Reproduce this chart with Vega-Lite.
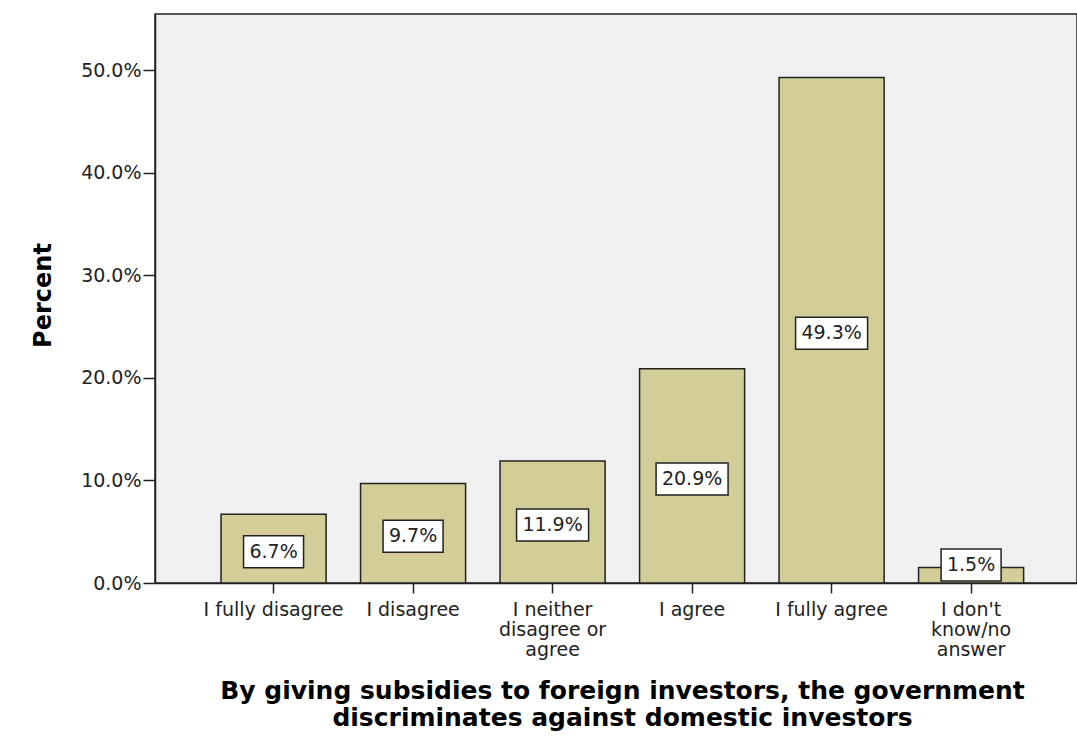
{
  "$schema": "https://vega.github.io/schema/vega-lite/v6.json",
  "width": 922,
  "height": 569,
  "autosize": {"type": "none"},
  "padding": {"left": 155, "top": 14, "right": 0, "bottom": 160},
  "background": "white",
  "config": {
    "view": {"fill": "#f0f0f0", "stroke": "#222222", "strokeWidth": 1.5},
    "font": "DejaVu Sans"
  },
  "data": {
    "values": [
      {"category": "I fully disagree", "pct": 6.7},
      {"category": "I disagree", "pct": 9.7},
      {"category": "I neither disagree or agree", "pct": 11.9},
      {"category": "I agree", "pct": 20.9},
      {"category": "I fully agree", "pct": 49.3},
      {"category": "I don't know/no answer", "pct": 1.5}
    ]
  },
  "transform": [
    {"calculate": "format(datum.pct, '.1f') + '%'", "as": "label"},
    {"calculate": "max(datum.pct / 2 - 0.3, 1.76)", "as": "lp"}
  ],
  "encoding": {
    "x": {
      "field": "category",
      "type": "nominal",
      "sort": null,
      "scale": {"paddingInner": 0.247, "paddingOuter": 0.428, "align": 0.553},
      "axis": {
        "labelExpr": "datum.value == 'I neither disagree or agree' ? ['I neither', 'disagree or', 'agree'] : datum.value == \"I don't know/no answer\" ? [\"I don't\", 'know/no', 'answer'] : datum.value",
        "labelAngle": 0,
        "labelFontSize": 19,
        "labelColor": "#222222",
        "labelPadding": 7,
        "labelLineHeight": 20,
        "labelBaseline": "top",
        "domainColor": "#222222",
        "domainWidth": 1.5,
        "tickColor": "#222222",
        "tickWidth": 1.5,
        "tickSize": 10,
        "title": ["By giving subsidies to foreign investors, the government", "discriminates against domestic investors"],
        "titleFontSize": 25,
        "titleFontWeight": "bold",
        "titleColor": "#000000",
        "titleBaseline": "top",
        "titleLineHeight": 27,
        "titleY": 95,
        "titleX": 467,
        "titleAlign": "center"
      }
    },
    "y": {
      "type": "quantitative",
      "scale": {"domain": [0, 55.5], "nice": false, "zero": true},
      "axis": {
        "values": [0, 10, 20, 30, 40, 50],
        "labelExpr": "format(datum.value, '.1f') + '%'",
        "labelFontSize": 19,
        "labelColor": "#222222",
        "labelPadding": 2,
        "tickSize": 12,
        "tickColor": "#222222",
        "tickWidth": 1.5,
        "domainColor": "#222222",
        "domainWidth": 1.5,
        "grid": false,
        "title": "Percent",
        "titleFontSize": 24,
        "titleFontWeight": "bold",
        "titleColor": "#000000",
        "titleAngle": 270,
        "titleBaseline": "middle",
        "titleAlign": "center",
        "titleX": -112,
        "titleY": 281
      }
    }
  },
  "layer": [
    {
      "mark": {"type": "bar", "fill": "#d3ce97", "stroke": "#222222", "strokeWidth": 1.5},
      "encoding": {"y": {"field": "pct"}}
    },
    {
      "transform": [{"filter": "length(datum.label) == 4"}],
      "mark": {"type": "point", "shape": "M-1,-0.533H1V0.533H-1Z", "filled": true, "fill": "white", "stroke": "#222222", "strokeWidth": 1.5, "opacity": 1, "size": 3600},
      "encoding": {"y": {"field": "lp"}}
    },
    {
      "transform": [{"filter": "length(datum.label) == 5"}],
      "mark": {"type": "point", "shape": "M-1,-0.444H1V0.444H-1Z", "filled": true, "fill": "white", "stroke": "#222222", "strokeWidth": 1.5, "opacity": 1, "size": 5184},
      "encoding": {"y": {"field": "lp"}}
    },
    {
      "mark": {"type": "text", "fontSize": 19, "color": "#222222", "baseline": "middle", "align": "center"},
      "encoding": {"y": {"field": "lp"}, "text": {"field": "label"}}
    }
  ]
}
